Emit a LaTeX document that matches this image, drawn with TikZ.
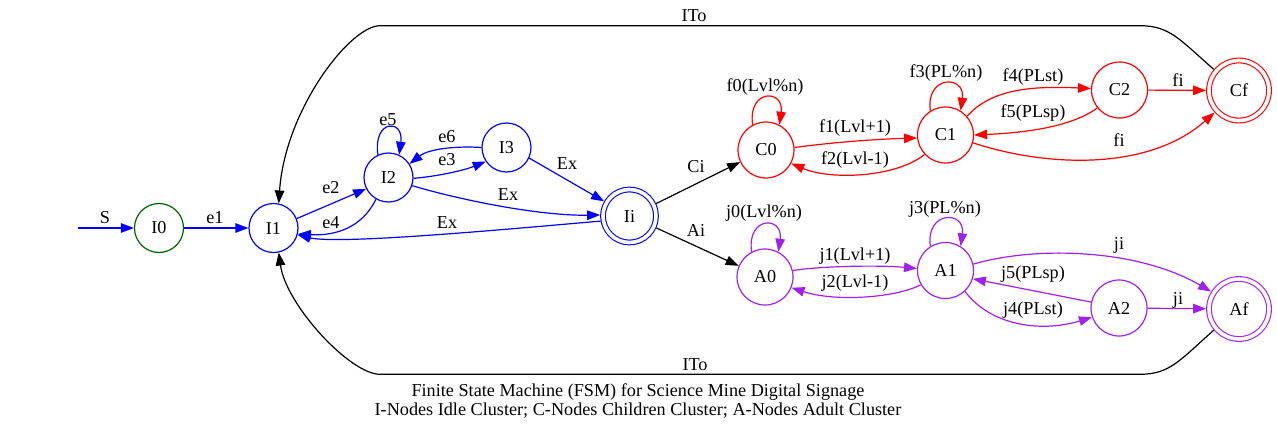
\documentclass[tikz,border=0pt]{standalone}
\usepackage{fontspec}
\setmainfont{Liberation Serif}
\usetikzlibrary{arrows.meta,calc}
\definecolor{gvblue}{RGB}{0,0,255}
\definecolor{gvred}{RGB}{255,0,0}
\definecolor{gvpurple}{RGB}{160,32,240}
\definecolor{gvgreen}{RGB}{0,100,0}
\begin{document}
\begin{tikzpicture}[x=1pt,y=-1pt,
  every node/.style={font=\fontsize{18.2}{19.5}\selectfont},
  st/.style={circle,draw,line width=1.2pt,inner sep=0pt,minimum size=49pt},
  stbig/.style={st,minimum size=56pt},
  acc/.style={circle,draw,line width=1.1pt,double=white,double distance=3.6pt,inner sep=0pt,outer sep=2.9pt},
  lbl/.style={inner sep=0pt},
  tr/.style={line width=1.2pt,-{Triangle[length=13pt,width=9.5pt]}},
]
\useasboundingbox (0,0) rectangle (1277,431);

% nodes
\node[st,draw=gvgreen] (I0) at (159,228) {I0};
\node[st,draw=gvblue] (I1) at (273.5,228) {I1};
\node[st,draw=gvblue] (I2) at (388.5,177.5) {I2};
\node[st,draw=gvblue] (I3) at (506.5,147.5) {I3};
\node[acc,draw=gvblue,minimum size=53pt] (Ii) at (629.5,216) {Ii};
\node[stbig,draw=gvred] (C0) at (766,150) {C0};
\node[stbig,draw=gvred] (C1) at (945.5,135) {C1};
\node[stbig,draw=gvred] (C2) at (1119.5,90) {C2};
\node[acc,draw=gvred,minimum size=60pt] (Cf) at (1239,90.5) {Cf};
\node[stbig,draw=gvpurple] (A0) at (765,277) {A0};
\node[stbig,draw=gvpurple] (A1) at (945.5,270.5) {A1};
\node[stbig,draw=gvpurple] (A2) at (1119,308) {A2};
\node[acc,draw=gvpurple,minimum size=60pt] (Af) at (1239,309) {Af};
\coordinate (s0) at (77.5,228);

% idle cluster
\draw[tr,gvblue] (s0) -- (I0);
\draw[tr,gvblue] (I0) -- (I1);
\draw[tr,gvblue] (I1.22) -- (I2.207);
\draw[tr,gvblue] (I2.240) .. controls (362,228) and (335,236) .. (I1.-14);
\draw[tr,gvblue] (I2.115) .. controls ($(I2.115)+(-5,-36)$) and ($(I2.65)+(5,-36)$) .. (I2.65);
\draw[tr,gvblue] (I2.-2) .. controls (440,176) and (465,170) .. (I3.214);
\draw[tr,gvblue] (I3.180) .. controls (460,146) and (430,148) .. (I2.33);
\draw[tr,gvblue] (I3.-25) -- (Ii.150);
\draw[tr,gvblue] (I2.-19) .. controls (460,200) and (540,216) .. (Ii.178);
\draw[tr,gvblue] (Ii.190) .. controls (520,228) and (340,245) .. (I1.-16);

% to clusters
\draw[tr,black] (Ii.25) -- (C0.205);
\draw[tr,black] (Ii.-24) -- (A0.157);

% children cluster
\draw[tr,gvred] (C0.118) .. controls ($(C0.118)+(-5,-36)$) and ($(C0.62)+(5,-36)$) .. (C0.62);
\draw[tr,gvred] (C0.5) .. controls (835,142) and (880,139) .. (C1.186);
\draw[tr,gvred] (C1.223) .. controls (895,178) and (830,180) .. (C0.-28);
\draw[tr,gvred] (C1.122) .. controls ($(C1.122)+(-5,-36)$) and ($(C1.58)+(5,-36)$) .. (C1.58);
\draw[tr,gvred] (C1.41) .. controls (992,88) and (1035,86) .. (C2.177);
\draw[tr,gvred] (C2.219) .. controls (1070,128) and (1020,133) .. (C1.0);
\draw[tr,gvred] (C2) -- (Cf);
\draw[tr,gvred] (C1.-16) .. controls (1050,168) and (1150,170) .. (Cf.222);

% adult cluster
\draw[tr,gvpurple] (A0.118) .. controls ($(A0.118)+(-5,-36)$) and ($(A0.62)+(5,-36)$) .. (A0.62);
\draw[tr,gvpurple] (A0.13) .. controls (820,266) and (880,265) .. (A1.176);
\draw[tr,gvpurple] (A1.210) .. controls (895,298) and (835,302) .. (A0.-22);
\draw[tr,gvpurple] (A1.122) .. controls ($(A1.122)+(-5,-36)$) and ($(A1.58)+(5,-36)$) .. (A1.58);
\draw[tr,gvpurple] (A1.13) .. controls (1040,245) and (1140,250) .. (Af.148);
\draw[tr,gvpurple] (A2.168) -- (A1.-17);
\draw[tr,gvpurple] (A1.-47) .. controls (990,325) and (1040,333) .. (A2.199);
\draw[tr,gvpurple] (A2) -- (Af);

% timeouts
\draw[tr,black] (Cf.140) .. controls (1180,40) and (1170,25.7) .. (1140,25.7) -- (380,25.7) .. controls (350,25.7) and (285,110) .. (I1.78);
\draw[tr,black] (Af.220) .. controls (1180,360) and (1170,374.3) .. (1140,374.3) -- (380,374.3) .. controls (350,374.3) and (286,305) .. (I1.-78);

% labels
\node[lbl] (lS) at (105,218) {S};
\node[lbl] (le1) at (215,218) {e1};
\node[lbl] (le2) at (331,188) {e2};
\node[lbl] (le4) at (331,223) {e4};
\node[lbl] (le5) at (388,120) {e5};
\node[lbl] (le6) at (447,137) {e6};
\node[lbl] (le3) at (447,160) {e3};
\node[lbl] (lEx1) at (567,164) {Ex};
\node[lbl] (lEx2) at (508,195) {Ex};
\node[lbl] (lEx3) at (447,223) {Ex};
\node[lbl] (lCi) at (696,167) {Ci};
\node[lbl] (lAi) at (696,230) {Ai};
\node[lbl] (lf0) at (765,87) {f0(Lvl\%n)};
\node[lbl] (lf1) at (855,128) {f1(Lvl+1)};
\node[lbl] (lf2) at (855,160) {f2(Lvl-1)};
\node[lbl] (lf3) at (946,73) {f3(PL\%n)};
\node[lbl] (lf4) at (1033,77) {f4(PLst)};
\node[lbl] (lf5) at (1033,113) {f5(PLsp)};
\node[lbl] (lfi1) at (1178,80) {fi};
\node[lbl] (lfi2) at (1119,140) {fi};
\node[lbl] (lj0) at (764,213) {j0(Lvl\%n)};
\node[lbl] (lj1) at (855,256) {j1(Lvl+1)};
\node[lbl] (lj2) at (855,283) {j2(Lvl-1)};
\node[lbl] (lj3) at (945,209) {j3(PL\%n)};
\node[lbl] (lji1) at (1119,245) {ji};
\node[lbl] (lj5) at (1033,274) {j5(PLsp)};
\node[lbl] (lj4) at (1033,310) {j4(PLst)};
\node[lbl] (lji2) at (1178,300) {ji};
\node[lbl] (lITo1) at (694,16) {ITo};
\node[lbl] (lITo2) at (695,365) {ITo};
\node[lbl,align=center] (cap) at (638,401) {Finite State Machine (FSM) for Science Mine Digital Signage\\I-Nodes Idle Cluster; C-Nodes Children Cluster; A-Nodes Adult Cluster};
\end{tikzpicture}
\end{document}
